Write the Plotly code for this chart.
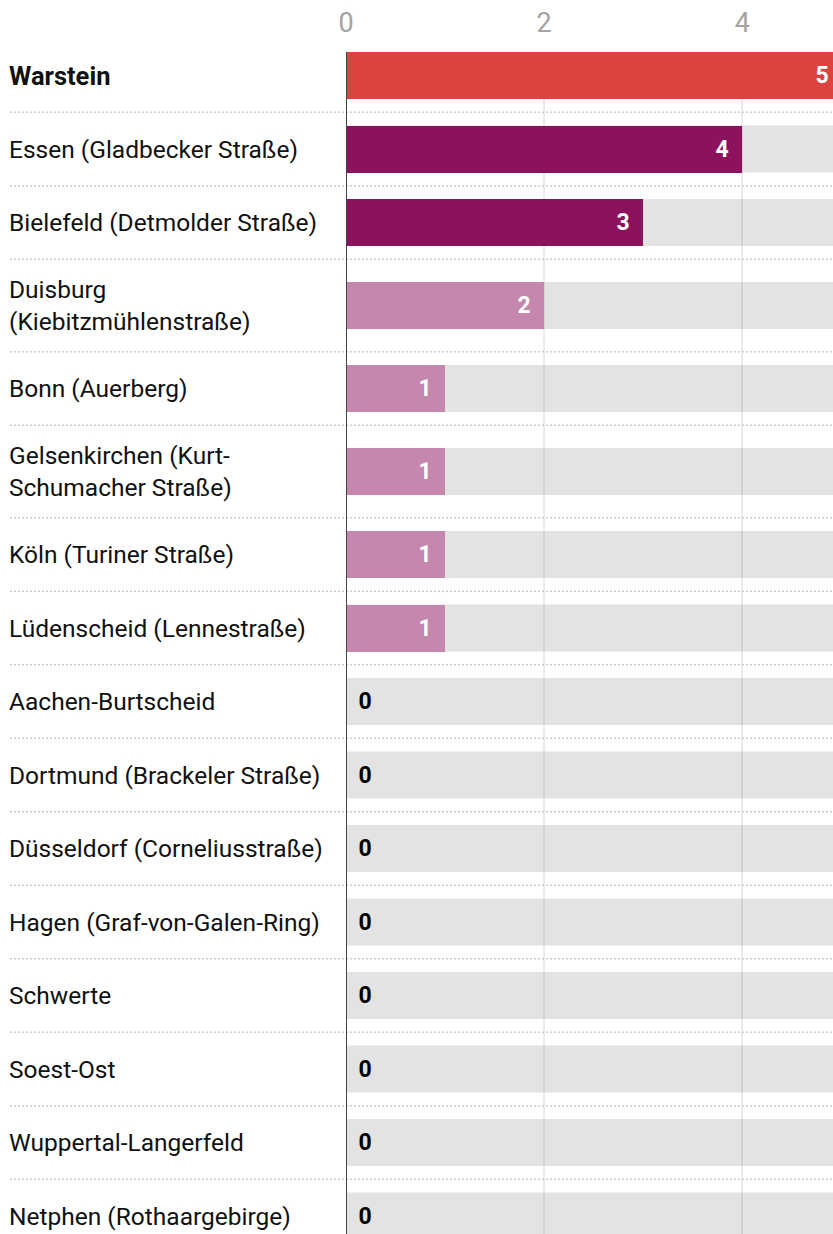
import plotly.graph_objects as go

# ---- data ----
stations = [
    "Warstein",
    "Essen (Gladbecker Straße)",
    "Bielefeld (Detmolder Straße)",
    "Duisburg<br>(Kiebitzmühlenstraße)",
    "Bonn (Auerberg)",
    "Gelsenkirchen (Kurt-<br>Schumacher Straße)",
    "Köln (Turiner Straße)",
    "Lüdenscheid (Lennestraße)",
    "Aachen-Burtscheid",
    "Dortmund (Brackeler Straße)",
    "Düsseldorf (Corneliusstraße)",
    "Hagen (Graf-von-Galen-Ring)",
    "Schwerte",
    "Soest-Ost",
    "Wuppertal-Langerfeld",
    "Netphen (Rothaargebirge)",
]
values = [5, 4, 3, 2, 1, 1, 1, 1, 0, 0, 0, 0, 0, 0, 0, 0]
highlight = "Warstein"
x_ticks = [0, 2, 4]
scale_max = 5

# ---- style ----
FONT = "Roboto"
RED = "#db4341"
PURPLE = "#8c125e"
PINK = "#c587ad"
GREY_BAR = "#e3e3e3"
W, H = 833, 1234
M_L, M_T = 346, 52
ROW_BASE, LINE_EXTRA, BAR_W = 73.5, 19, 47

# row layout (1 axis unit == 1 px)
lines = [s.count("<br>") + 1 for s in stations]
heights = [ROW_BASE + LINE_EXTRA * (n - 1) for n in lines]
tops = []
acc = 0.0
for h in heights:
    tops.append(acc)
    acc += h
centers = [t + h / 2 for t, h in zip(tops, heights)]
boundaries = tops[1:]
y_top = centers[0] - BAR_W / 2
y_bottom = y_top + (H - M_T)

def bar_color(name, v):
    if name == highlight:
        return RED
    return PURPLE if v >= 3 else PINK

colors = [bar_color(s, v) for s, v in zip(stations, values)]
texts = [f"{v}\u00a0\u2009" if v > 0 else f"\u2009\u2009{v}" for v in values]
positions = ["inside" if v > 0 else "outside" for v in values]
tcolors = ["white" if v > 0 else "black" for v in values]

fig = go.Figure()
fig.add_bar(
    y=centers, x=values, orientation="h", width=BAR_W,
    marker=dict(color=colors, line=dict(width=0)),
    text=texts, textposition=positions, insidetextanchor="end",
    textfont=dict(family=FONT, size=23, color=tcolors, weight="bold"),
    constraintext="none", cliponaxis=True,
    hoverinfo="skip",
)

shapes = []
# grey background bars (below gridlines)
for c in centers:
    shapes.append(dict(type="rect", xref="x", yref="y", x0=0, x1=scale_max,
                       y0=c - BAR_W / 2, y1=c + BAR_W / 2,
                       fillcolor=GREY_BAR, line=dict(width=0), layer="below"))
# dotted separators
for b in boundaries:
    shapes.append(dict(type="line", xref="paper", yref="y", xsizemode="pixel",
                       xanchor=0, x0=-(M_L - 10), x1=W, y0=b, y1=b,
                       line=dict(color="#cccccc", width=1.5, dash="2px,2px"),
                       layer="above"))
# zero line
shapes.append(dict(type="line", xref="x", yref="paper", x0=0, x1=0, y0=0, y1=1,
                   line=dict(color="#444444", width=2), layer="above"))

annotations = []
for s, c in zip(stations, centers):
    if s == highlight:
        txt, size = f"<b>{s}</b>", 25.5
    else:
        txt, size = s, 24.5
    annotations.append(dict(text=txt, xref="paper", yref="y", x=0, y=c,
                            xanchor="left", yanchor="middle", align="left",
                            xshift=-(M_L - 7), showarrow=False,
                            font=dict(family=FONT, size=size, color="#111111")))

fig.update_layout(
    width=W, height=H,
    margin=dict(l=M_L, r=0, t=M_T, b=0, pad=0),
    paper_bgcolor="white", plot_bgcolor="white",
    showlegend=False, bargap=0,
    shapes=shapes, annotations=annotations,
    xaxis=dict(side="top", range=[0, (W - M_L) / 99.1], tickvals=x_ticks,
               showgrid=True, gridcolor="rgba(0,0,0,0.08)", gridwidth=1.5,
               zeroline=False, showline=False, ticks="",
               ticklabelstandoff=14,
               tickfont=dict(family=FONT, size=27, color="#a3a3a3")),
    yaxis=dict(range=[y_bottom, y_top], showgrid=False, zeroline=False,
               showticklabels=False, showline=False, ticks=""),
)

fig.write_html(
    "out.html",
    config={"displayModeBar": False},
    post_script="document.body.style.margin='0';document.body.style.overflow='hidden';",
)
